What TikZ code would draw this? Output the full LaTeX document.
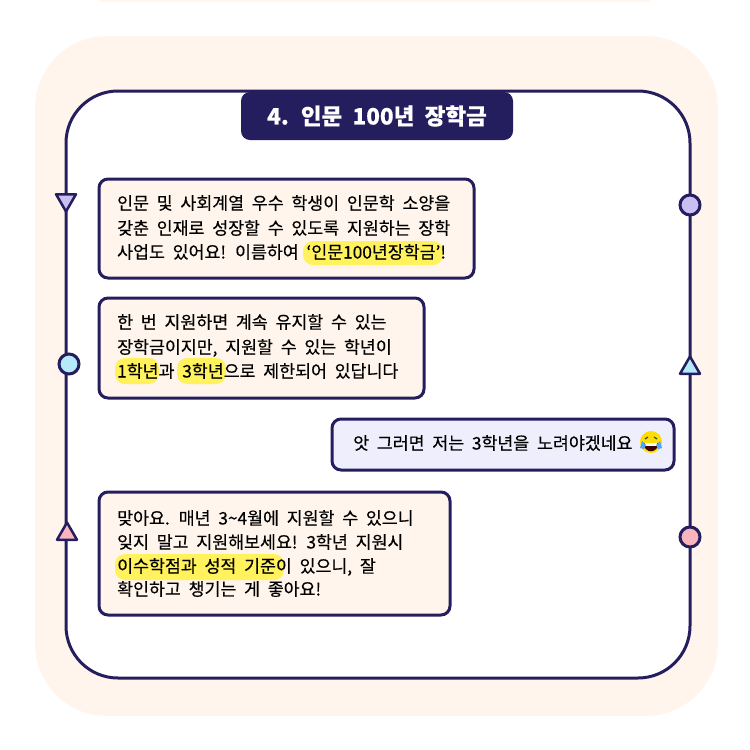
\documentclass[tikz,border=0pt]{standalone}
\usepackage{fontspec}
\setmainfont[WordSpace=2.0,FakeBold=0.35]{Noto Sans CJK KR}
\usepgflibrary{shapes}
\definecolor{navy}{HTML}{251E5E}
\definecolor{cream}{HTML}{FFF5EC}
\definecolor{lilac}{HTML}{EEEEFC}
\definecolor{marker}{HTML}{FFF25C}
\definecolor{violetdot}{HTML}{C9BFF2}
\definecolor{skydot}{HTML}{B5EAFA}
\definecolor{pinkdot}{HTML}{F9B4BE}
\tikzset{
  bubble/.style={draw=navy, line width=3pt, rounded corners=9pt, inner sep=0pt},
  line/.style={anchor=west, inner sep=0pt, font=\fontsize{17.3}{18}\selectfont, text=black, text height=12pt, text depth=3pt},
  glow/.style={fill=marker, rounded corners=10pt},
  dot/.style={circle, draw=navy, line width=3pt, inner sep=0pt, minimum size=20pt},
  tri/.style={regular polygon, regular polygon sides=3, draw=navy, line width=2.5pt, line join=round, inner sep=0pt, minimum size=23pt}
}
\begin{document}
\begin{tikzpicture}[x=1pt,y=-1pt]
  \useasboundingbox (0,0) rectangle (750,750);
  \fill[cream] (100,-60) rectangle (650,2);
  \fill[cream, rounded corners=72pt] (35,36) rectangle (718,716);
  \node[name=frame, draw=navy, fill=white, line width=3pt, rounded corners=52pt, inner sep=0pt, minimum width=624pt, minimum height=587pt] at (378,384.5){};
  \node[name=title, fill=navy, rounded corners=9pt, inner sep=0pt, minimum width=272pt, minimum height=48pt, text=white, font=\fontsize{22.5}{24}\bfseries\selectfont] at (377,116){4. 인문 100년 장학금};

  \node[name=t1, tri, fill=violetdot, shape border rotate=180] at (66,200){};
  \node[name=c1, dot, fill=violetdot] at (690,205){};
  \node[name=c2, dot, fill=skydot] at (69,364){};
  \node[name=t2, tri, fill=skydot] at (690,368){};
  \node[name=t3, tri, fill=pinkdot] at (67,534){};
  \node[name=c3, dot, fill=pinkdot] at (690,537){};

  \node[name=b1, bubble, fill=cream, minimum width=375pt, minimum height=99pt] at (286.5,228.5){};
  \node[name=b2, bubble, fill=cream, minimum width=325pt, minimum height=100pt] at (261.5,348){};
  \node[name=b3, bubble, fill=lilac, minimum width=342pt, minimum height=51pt] at (503,444.5){};
  \node[name=b4, bubble, fill=cream, minimum width=351pt, minimum height=123pt] at (274.5,553.5){};

  \fill[glow] (303,241) rectangle (443,265);
  \fill[glow] (115,358) rectangle (159,384);
  \fill[glow] (177,358) rectangle (226,384);
  \fill[glow] (115,554) rectangle (284,580);

  \node[name=l1, line] at (117,205){인문 및 사회계열 우수 학생이 인문학 소양을};
  \node[name=l2, line] at (117,230){갖춘 인재로 성장할 수 있도록 지원하는 장학};
  \node[name=l3, line] at (117,254){사업도 있어요! 이름하여 ‘인문100년장학금’!};
  \node[name=l4, line] at (117,324){한 번 지원하면 계속 유지할 수 있는};
  \node[name=l5, line] at (117,349){장학금이지만, 지원할 수 있는 학년이};
  \node[name=l6, line] at (117,373){1학년과 3학년으로 제한되어 있답니다};
  \node[name=l7, line] at (353,445){앗 그러면 저는 3학년을 노려야겠네요};
  \node[name=l8, line] at (117,520){맞아요. 매년 3\textasciitilde 4월에 지원할 수 있으니};
  \node[name=l9, line] at (117,544){잊지 말고 지원해보세요! 3학년 지원시};
  \node[name=l10, line] at (117,568){이수학점과 성적 기준이 있으니, 잘};
  \node[name=l11, line] at (117,591){확인하고 챙기는 게 좋아요!};

  \fill[yellow!80!orange] (651,442) circle (11pt);
  \fill[black!75!red] (643,443) .. controls (645,454) and (657,454) .. (659,443) -- cycle;
  \fill[white] (645,443) rectangle (657,445.5);
  \draw[black!75, line width=1.2pt] (645,439) -- (648,437) (654,437) -- (657,439);
  \fill[blue!50!cyan!70] (642,441) -- (646,445) -- (644,449) -- (640,448) -- cycle;
  \fill[blue!50!cyan!70] (660,441) -- (656,445) -- (658,449) -- (662,448) -- cycle;
\end{tikzpicture}
\end{document}
